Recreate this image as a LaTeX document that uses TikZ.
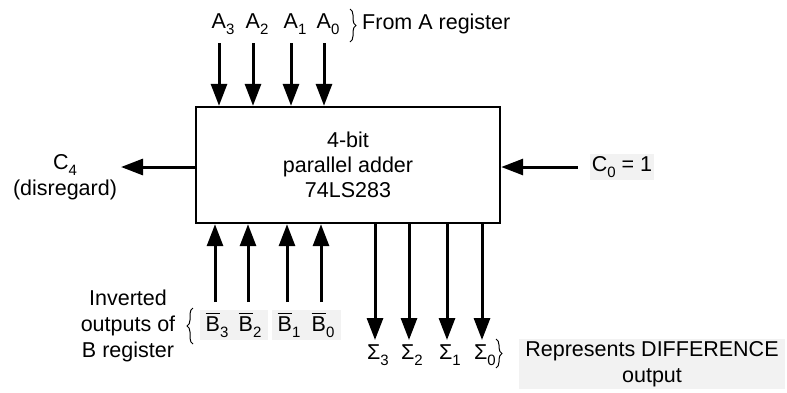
\documentclass[tikz,border=0pt]{standalone}
\usepackage{amsmath}
\usepackage{fontspec}
\setmainfont{Liberation Sans}
\usetikzlibrary{arrows.meta, decorations.pathreplacing, positioning}
\newcommand{\lowsub}[1]{\raisebox{-0.3em}{\fontsize{15}{15}\selectfont #1}}

\begin{document}
\begin{tikzpicture}[x=1pt, y=-1pt,
    chip/.style={rectangle, draw, line width=2.4pt, minimum width=304pt,
                 minimum height=116pt, align=center,
                 font=\fontsize{21.5}{25}\selectfont},
    sig/.style={line width=3pt, -{Triangle[length=22pt, width=16pt]}},
    lbl/.style={font=\fontsize{21.5}{26}\selectfont, inner sep=2pt},
    shade/.style={fill=black!5},
    brc/.style={decorate, decoration={brace, amplitude=6pt}, line width=1pt}
]
    \useasboundingbox (0,0) rectangle (787,392);
    \node[chip] (add) at (348,165) {4-bit\\parallel adder\\74LS283};

    \foreach \i/\x in {3/219, 2/253, 1/291, 0/324} {
        \node[lbl] (a\i) at (\x+4,24) {A\lowsub{\i}};
        \coordinate (at\i) at (\x,43);
        \draw[sig] (at\i) -- (at\i |- add.north);
    }
    \draw[brc] (350,9) -- (350,42);
    \node[lbl, anchor=west] (froma) at (360,24) {From A register};

    \node[lbl, align=center] (c4) at (65,177) {C\lowsub{4}\\(disregard)};
    \coordinate (c4e) at (121,167);
    \draw[sig] (add.west |- c4e) -- (c4e);

    \node[lbl, shade] (c0) at (622,167) {C\lowsub{0} = 1};
    \draw[sig] ([xshift=-12pt]c0.west) -- (c0.west -| add.east);

    \foreach \i/\x in {3/215, 2/248, 1/287, 0/321} {
        \node[lbl, shade, minimum width=35pt] (b\i) at (\x+2,325)
            {$\overline{\text{B}}$\lowsub{\i}};
        \coordinate (bt\i) at (\x,302);
        \draw[sig] (bt\i) -- (bt\i |- add.south);
    }
    \draw[brc] (193,344) -- (193,308);
    \node[lbl, align=center] (binv) at (128,326) {Inverted\\outputs of\\B register};

    \foreach \i/\x in {3/375, 2/409, 1/447, 0/482} {
        \coordinate (se\i) at (\x,340);
        \draw[sig] (se\i |- add.south) -- (se\i);
        \node[lbl] (s\i) at (\x+3,355) {Σ\lowsub{\i}};
    }
    \draw[brc] (496,339) -- (496,368);
    \node[lbl, shade, align=center, inner xsep=6pt] (diff) at (652,364)
        {Represents DIFFERENCE\\output};
\end{tikzpicture}
\end{document}
